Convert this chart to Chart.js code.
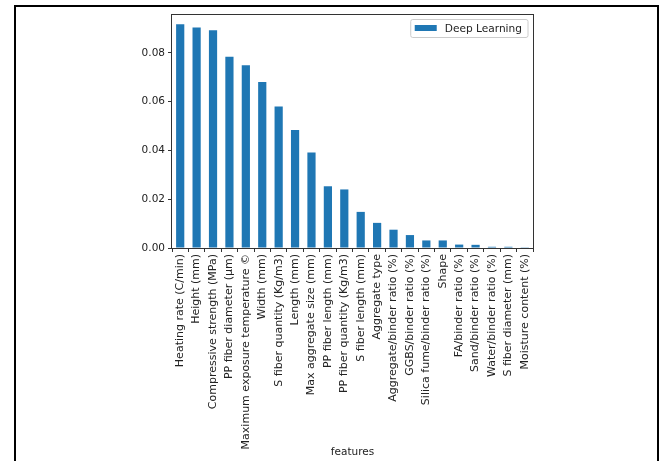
<!DOCTYPE html>
<html>
<head>
<meta charset="utf-8">
<script src="https://cdn.jsdelivr.net/npm/chart.js@4/dist/chart.umd.min.js"></script>
<style>
  html, body { margin: 0; padding: 0; background: #ffffff; }
  canvas { display: block; }
</style>
</head>
<body>
<canvas id="chart" width="661" height="461"></canvas>
<script>
// Feature importance of the deep learning model, sorted from largest to smallest
const features = [
  'Heating rate (C/min)',
  'Height (mm)',
  'Compressive strength (MPa)',
  'PP fiber diameter (\u03bcm)',
  'Maximum exposure temperature \u00a9',
  'Width (mm)',
  'S fiber quantity (Kg/m3)',
  'Length (mm)',
  'Max aggregate size (mm)',
  'PP fiber length (mm)',
  'PP fiber quantity (Kg/m3)',
  'S fiber length (mm)',
  'Aggregate type',
  'Aggregate/binder ratio (%)',
  'GGBS/binder ratio (%)',
  'Silica fume/binder ratio (%)',
  'Shape',
  'FA/binder ratio (%)',
  'Sand/binder ratio (%)',
  'Water/binder ratio (%)',
  'S fiber diameter (mm)',
  'Moisture content (%)'
];
const deepLearning = [
  0.0917, 0.0904, 0.0892, 0.0784, 0.0749, 0.0680, 0.0580, 0.0484,
  0.0391, 0.0253, 0.0240, 0.0148, 0.0103, 0.0075, 0.0053, 0.0031,
  0.0031, 0.0014, 0.0013, 0.0005, 0.0005, 0.0001
];
const yTicks = [0.00, 0.02, 0.04, 0.06, 0.08];
const yMax = 0.0959;

const BLUE = '#1f77b4';
const INK = '#222222';
const SPINE = '#333333';
const FONT = "'DejaVu Sans', sans-serif";

// Outer black frame plus the top/right spines of the axes box
const framePlugin = {
  id: 'frame',
  beforeDraw(chart) {
    const c = chart.ctx;
    c.save();
    c.fillStyle = '#ffffff';
    c.fillRect(0, 0, chart.width, chart.height);
    c.strokeStyle = '#000000';
    c.lineWidth = 2;
    c.beginPath();
    c.moveTo(15, chart.height);
    c.lineTo(15, 6);
    c.lineTo(658, 6);
    c.lineTo(658, chart.height);
    c.stroke();
    c.restore();
  },
  afterDatasetsDraw(chart) {
    const a = chart.chartArea;
    const c = chart.ctx;
    c.save();
    c.strokeStyle = SPINE;
    c.lineWidth = 1;
    c.strokeRect(Math.round(a.left) - 0.5, Math.round(a.top) + 0.5,
                 Math.round(a.right - a.left) + 1, Math.round(a.bottom - a.top));
    c.restore();
  }
};

// Legend box in the upper right corner of the axes
const boxLegend = {
  id: 'boxLegend',
  afterDraw(chart) {
    const a = chart.chartArea;
    const c = chart.ctx;
    const ds = chart.data.datasets[0];
    c.save();
    c.font = '10.6px ' + FONT;
    const tw = c.measureText(ds.label).width;
    const w = 4 + 22 + 8 + tw + 6;
    const h = 18;
    const x = a.right - 5 - w;
    const y = a.top + 5.5;
    const r = 2;
    c.beginPath();
    c.moveTo(x + r, y);
    c.lineTo(x + w - r, y);
    c.quadraticCurveTo(x + w, y, x + w, y + r);
    c.lineTo(x + w, y + h - r);
    c.quadraticCurveTo(x + w, y + h, x + w - r, y + h);
    c.lineTo(x + r, y + h);
    c.quadraticCurveTo(x, y + h, x, y + h - r);
    c.lineTo(x, y + r);
    c.quadraticCurveTo(x, y, x + r, y);
    c.closePath();
    c.fillStyle = 'rgba(255,255,255,0.8)';
    c.fill();
    c.strokeStyle = '#cccccc';
    c.lineWidth = 1;
    c.stroke();
    c.fillStyle = ds.backgroundColor;
    c.fillRect(x + 4, y + 5.5, 22, 6);
    c.fillStyle = INK;
    c.textBaseline = 'middle';
    c.fillText(ds.label, x + 34, y + h / 2 + 0.5);
    c.restore();
  }
};

new Chart(document.getElementById('chart'), {
  type: 'bar',
  data: {
    labels: features,
    datasets: [{
      label: 'Deep Learning',
      data: deepLearning,
      backgroundColor: BLUE,
      borderWidth: 0,
      barPercentage: 0.5,
      categoryPercentage: 1.0
    }]
  },
  options: {
    responsive: false,
    animation: false,
    devicePixelRatio: 1,
    layout: { padding: { left: 0, top: 14, right: 128, bottom: 0 } },
    plugins: {
      legend: { display: false },
      tooltip: { enabled: false }
    },
    scales: {
      x: {
        offset: true,
        grid: { display: true, drawOnChartArea: false, tickLength: 4, color: SPINE },
        border: { display: false },
        ticks: {
          autoSkip: false,
          maxRotation: 90,
          minRotation: 90,
          padding: 2,
          color: INK,
          font: { family: FONT, size: 11 }
        },
        title: {
          display: true,
          text: 'features',
          color: INK,
          font: { family: FONT, size: 10.5 },
          padding: { top: 0, bottom: 2 }
        },
        afterFit(scale) { scale.height = 461 - 248; }
      },
      y: {
        min: 0,
        max: yMax,
        grid: { display: true, drawOnChartArea: false, tickLength: 4, color: SPINE },
        border: { display: false },
        afterBuildTicks(scale) {
          scale.ticks = yTicks.map(v => ({ value: v }));
        },
        ticks: {
          padding: 3,
          color: INK,
          font: { family: FONT, size: 10.5 },
          callback: v => Number(v).toFixed(2)
        },
        afterFit(scale) { scale.width = 172; }
      }
    }
  },
  plugins: [framePlugin, boxLegend]
});
</script>
</body>
</html>
